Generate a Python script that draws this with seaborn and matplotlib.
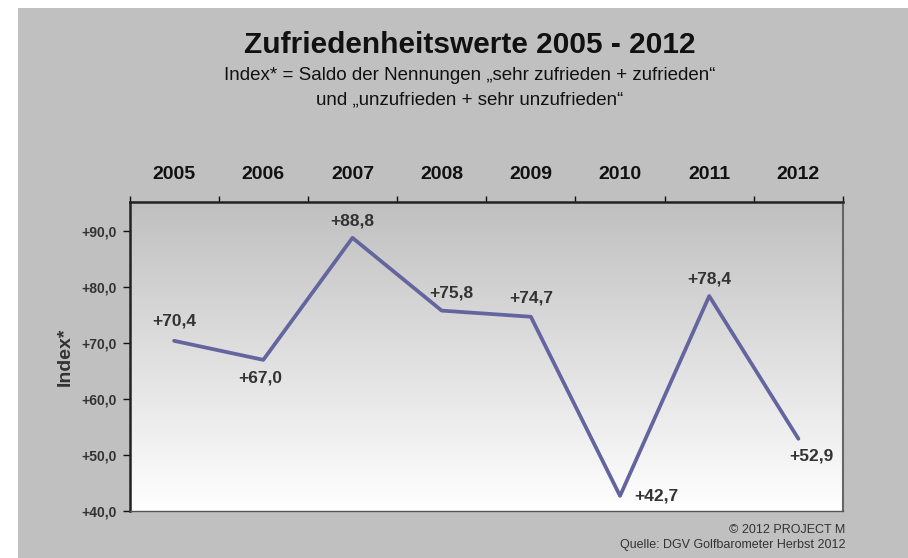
import numpy as np
import pandas as pd
import matplotlib
matplotlib.use("Agg")
import matplotlib.pyplot as plt
import seaborn as sns
from matplotlib.patches import Rectangle
from matplotlib.colors import LinearSegmentedColormap

years = ["2005", "2006", "2007", "2008", "2009", "2010", "2011", "2012"]
values = [70.4, 67.0, 88.8, 75.8, 74.7, 42.7, 78.4, 52.9]
yticks = [40, 50, 60, 70, 80, 90]
ytick_labels = ["+40,0", "+50,0", "+60,0", "+70,0", "+80,0", "+90,0"]
labels = ["+70,4", "+67,0", "+88,8", "+75,8", "+74,7", "+42,7", "+78,4", "+52,9"]

sns.set_theme(style="white")
plt.rcParams['font.family'] = ['Liberation Sans', 'DejaVu Sans']

fig = plt.figure(figsize=(9.08, 5.58), dpi=100)
fig.patch.set_facecolor("white")
fig.patches.append(Rectangle((18/908, 0), 1 - 18/908, 1 - 8/558, transform=fig.transFigure,
                             facecolor="#c0c0c0", edgecolor="none", zorder=-10))

ax = fig.add_axes([129.5/908, 47/558, (843-129.5)/908, (511-202)/558])
ax.set_facecolor("none")

df = pd.DataFrame({"pos": np.arange(len(years)), "value": values})

ax.set_xlim(-0.5, len(years) - 0.5)
ax.set_ylim(40, 95.2)

# gradient background
cmap = LinearSegmentedColormap.from_list("g", ["#ffffff", "#c0c0c0"])
grad = np.linspace(0, 1, 256).reshape(-1, 1)
ax.imshow(grad, cmap=cmap, aspect="auto", origin="lower",
          extent=[-0.5, len(years) - 0.5, 40, 95.2], zorder=0)

sns.lineplot(data=df, x="pos", y="value", ax=ax, color="#64649e", linewidth=2.7, zorder=3)

# labels
offsets = [(0, 9, "center", "bottom"), (-2, -8, "center", "top"), (0, 7, "center", "bottom"),
           (7, 7, "center", "bottom"), (0, 8, "center", "bottom"), (10, 0, "left", "center"),
           (0, 7, "center", "bottom"), (9, -7, "center", "top")]
for i, (v, lab) in enumerate(zip(values, labels)):
    dx, dy, ha, va = offsets[i]
    ax.annotate(lab, (i, v), xytext=(dx, dy), textcoords="offset points", ha=ha, va=va,
                fontsize=12.5, fontweight="bold", color="#333333", zorder=5)

# axes styling
ax.xaxis.tick_top()
ax.set_xticks(np.arange(-0.5, len(years), 1.0))
ax.set_xticklabels([])
ax.set_xticks(np.arange(len(years)), minor=True)
ax.set_xticklabels(years, minor=True, fontsize=14, fontweight="bold", color="#111111")
ax.tick_params(axis="x", which="major", direction="out", length=4, width=1, color="#111111", top=True, bottom=False)
ax.tick_params(axis="x", which="minor", length=0, pad=14, top=True, bottom=False)

ax.set_yticks(yticks)
ax.set_yticklabels(ytick_labels, fontsize=10, fontweight="bold", color="#333333")
ax.tick_params(axis="y", which="major", direction="out", length=5, width=1, color="#111111", left=True, pad=4)

ax.set_xlabel("")
ax.set_ylabel("Index*", fontsize=14, fontweight="bold", color="#333333", labelpad=6)

for side in ["top", "left"]:
    ax.spines[side].set_color("#222222")
    ax.spines[side].set_linewidth(1.8)
ax.spines["bottom"].set_color("#555555")
ax.spines["bottom"].set_linewidth(1.0)
ax.spines["right"].set_color("#666666")
ax.spines["right"].set_linewidth(1.5)
for s in ax.spines.values():
    s.set_visible(True)

fig.text(470/908, 1 - 45/558, "Zufriedenheitswerte 2005 - 2012", ha="center", va="center",
         fontsize=21.5, fontweight="bold", color="#111111")
fig.text(470/908, 1 - 76/558, "Index* = Saldo der Nennungen \u201esehr zufrieden + zufrieden\u201c",
         ha="center", va="center", fontsize=13.5, color="#111111")
fig.text(470/908, 1 - 100/558, "und \u201eunzufrieden + sehr unzufrieden\u201c",
         ha="center", va="center", fontsize=13.5, color="#111111")

fig.text(845/908, 1 - 530/558, "\u00a9 2012 PROJECT M", ha="right", va="center", fontsize=9, color="#333333")
fig.text(845/908, 1 - 545/558, "Quelle: DGV Golfbarometer Herbst 2012", ha="right", va="center", fontsize=9, color="#333333")

fig.savefig("out.png", dpi=100)
